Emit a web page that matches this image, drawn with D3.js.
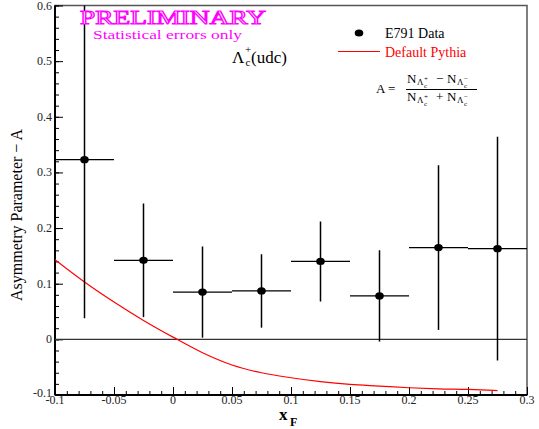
<!DOCTYPE html>
<html>
<head>
<meta charset="utf-8">
<script src="https://cdn.jsdelivr.net/npm/d3@7"></script>
<style>
  body { margin: 0; background: #fff; }
  svg, svg text { font-family: "Liberation Serif", "Times New Roman", "DejaVu Serif", serif !important; }
</style>
</head>
<body>
<div id="vis"></div>
<script>
// chart size
const WIDTH = 539;
const HEIGHT = 429;
const MARGINS = {left: 55, right: 12, top: 5.5, bottom: 34};
const SERIF = "Liberation Serif, Times New Roman, serif";

// data: bin centres, asymmetry values and stat errors
const xCenters = [-0.075, -0.025, 0.025, 0.075, 0.125, 0.175, 0.225, 0.275];
const binHalfWidth = 0.025;
const asymmetry = [0.323, 0.142, 0.085, 0.087, 0.140, 0.078, 0.165, 0.163];
const errors = [0.285, 0.102, 0.082, 0.066, 0.072, 0.082, 0.148, 0.201];

// default pythia prediction
const pythiaX = [-0.1, -0.075, -0.05, -0.025, 0, 0.025, 0.05, 0.075, 0.1, 0.125, 0.15, 0.175, 0.2, 0.225, 0.25, 0.275];
const pythiaY = [0.143, 0.103, 0.067, 0.034, 0.004, -0.024, -0.046, -0.060, -0.069, -0.076, -0.081, -0.084, -0.087, -0.089, -0.090, -0.092];

// axis ticks
const xTicks = [-0.1, -0.05, 0, 0.05, 0.1, 0.15, 0.2, 0.25, 0.3];
const xTickLabels = ["-0.1", "-0.05", "0", "0.05", "0.1", "0.15", "0.2", "0.25", "0.3"];
const yTicks = [-0.1, 0, 0.1, 0.2, 0.3, 0.4, 0.5, 0.6];
const yTickLabels = ["-0.1", "0", "0.1", "0.2", "0.3", "0.4", "0.5", "0.6"];

const svg = d3.select("#vis")
  .append("svg")
    .attr("width", WIDTH)
    .attr("height", HEIGHT)
    .attr("font-family", SERIF);

const x = d3.scaleLinear()
  .domain([-0.1, 0.3])
  .range([MARGINS.left, WIDTH - MARGINS.right]);

const y = d3.scaleLinear()
  .domain([-0.1, 0.6])
  .range([HEIGHT - MARGINS.bottom, MARGINS.top]);

// little helper so every label gets the serif font
function label(g, xPos, yPos, size, str) {
  return g.append("text")
    .attr("x", xPos).attr("y", yPos)
    .attr("font-size", size)
    .attr("font-family", SERIF)
    .text(str);
}

// frame (top & right)
svg.append("rect")
  .attr("x", x(-0.1))
  .attr("y", y(0.6))
  .attr("width", x(0.3) - x(-0.1))
  .attr("height", y(-0.1) - y(0.6))
  .attr("fill", "none")
  .attr("stroke", "#555")
  .attr("stroke-width", 1.5);

// minor ticks
const xMinor = d3.range(-0.1, 0.3001, 0.01);
const yMinor = d3.range(-0.1, 0.6001, 0.02);

svg.append("g")
  .attr("transform", "translate(0," + y(-0.1) + ")")
  .call(d3.axisTop(x).tickValues(xMinor).tickSize(4).tickFormat(""))
  .call(g => g.select(".domain").remove());

svg.append("g")
  .attr("transform", "translate(" + x(-0.1) + ",0)")
  .call(d3.axisRight(y).tickValues(yMinor).tickSize(4).tickFormat(""))
  .call(g => g.select(".domain").remove());

// major ticks (inward) with labels placed outside
const xAxis = svg.append("g")
  .attr("transform", "translate(0," + y(-0.1) + ")")
  .call(d3.axisTop(x).tickValues(xTicks).tickSize(8).tickFormat(""));
xAxis.select(".domain").attr("stroke-width", 2).attr("d", "M" + x(-0.1) + ",0H" + x(0.3));

svg.append("g").selectAll("text")
  .data(xTicks)
  .join("text")
    .attr("x", d => x(d))
    .attr("y", y(-0.1) + 9)
    .attr("text-anchor", "middle")
    .attr("font-size", 12)
    .attr("font-family", SERIF)
    .attr("fill", "#222")
    .text((d, i) => xTickLabels[i]);

const yAxis = svg.append("g")
  .attr("transform", "translate(" + x(-0.1) + ",0)")
  .call(d3.axisRight(y).tickValues(yTicks).tickSize(8).tickFormat(""));
yAxis.select(".domain").attr("stroke-width", 2).attr("d", "M0," + y(-0.1) + "V" + y(0.6));

svg.append("g").selectAll("text")
  .data(yTicks)
  .join("text")
    .attr("x", x(-0.1) - 3)
    .attr("y", d => y(d) + (d === -0.1 ? 2 : 4))
    .attr("text-anchor", "end")
    .attr("font-size", 12)
    .attr("font-family", SERIF)
    .attr("fill", "#222")
    .text((d, i) => yTickLabels[i]);

// zero line
svg.append("line")
  .attr("x1", x(-0.1)).attr("x2", x(0.3))
  .attr("y1", y(0)).attr("y2", y(0))
  .attr("stroke", "#333")
  .attr("stroke-width", 1.2);

// clip for data
svg.append("clipPath").attr("id", "clip")
  .append("rect")
    .attr("x", x(-0.1)).attr("y", y(0.6))
    .attr("width", x(0.3) - x(-0.1))
    .attr("height", y(-0.1) - y(0.6));

const plot = svg.append("g").attr("clip-path", "url(#clip)");

// pythia curve
const pythia = pythiaX.map((d, i) => [d, pythiaY[i]]);
plot.append("path")
  .datum(pythia)
  .attr("fill", "none")
  .attr("stroke", "red")
  .attr("stroke-width", 1.2)
  .attr("d", d3.line().x(d => x(d[0])).y(d => y(d[1])).curve(d3.curveMonotoneX));

// error bars
const points = xCenters.map((d, i) => ({x: d, a: asymmetry[i], e: errors[i]}));

plot.selectAll(".xerr")
  .data(points)
  .join("line")
    .attr("x1", d => x(d.x - binHalfWidth))
    .attr("x2", d => x(d.x + binHalfWidth))
    .attr("y1", d => y(d.a))
    .attr("y2", d => y(d.a))
    .attr("stroke", "black")
    .attr("stroke-width", 1.3);

plot.selectAll(".yerr")
  .data(points)
  .join("line")
    .attr("x1", d => x(d.x))
    .attr("x2", d => x(d.x))
    .attr("y1", d => y(d.a - d.e))
    .attr("y2", d => y(d.a + d.e))
    .attr("stroke", "black")
    .attr("stroke-width", 1.5);

plot.selectAll("ellipse")
  .data(points)
  .join("ellipse")
    .attr("cx", d => x(d.x))
    .attr("cy", d => y(d.a))
    .attr("rx", 4.3)
    .attr("ry", 3.6)
    .attr("fill", "black");

// PRELIMINARY label (hollow letters)
label(svg, 80, 24, 18, "PRELIMINARY")
  .attr("fill", "white")
  .attr("stroke", "#ff00ff")
  .attr("stroke-width", 1)
  .attr("textLength", 186)
  .attr("lengthAdjust", "spacingAndGlyphs");

label(svg, 93, 39, 12.5, "Statistical errors only")
  .attr("fill", "#ff00ff")
  .attr("textLength", 149)
  .attr("lengthAdjust", "spacingAndGlyphs");

// Lambda_c label
label(svg, 232, 63, 17, "Λ");
label(svg, 245, 53, 11, "+");
label(svg, 245.5, 66, 11, "c");
label(svg, 251, 63, 17, "(udc)");

// legend
svg.append("ellipse")
  .attr("cx", 359).attr("cy", 33)
  .attr("rx", 4.3).attr("ry", 3.6)
  .attr("fill", "black");
label(svg, 385, 38, 14, "E791 Data");

svg.append("line")
  .attr("x1", 338).attr("x2", 380)
  .attr("y1", 51.5).attr("y2", 51.5)
  .attr("stroke", "red")
  .attr("stroke-width", 1.2);
label(svg, 385, 57, 14, "Default Pythia").attr("fill", "red");

// asymmetry formula  A = (N+ - N-)/(N+ + N-)
label(svg, 376, 93, 13, "A =");

function nLam(g, xPos, yPos, sign) {
  label(g, xPos, yPos, 13, "N");
  label(g, xPos + 10, yPos + 2, 9, "Λ");
  label(g, xPos + 17, yPos - 2, 7, sign);
  label(g, xPos + 17, yPos + 5, 7, "c");
}

const formula = svg.append("g");
nLam(formula, 407, 83, "+");
label(formula, 436, 83, 13, "−");
nLam(formula, 447, 83, "−");
formula.append("line")
  .attr("x1", 406).attr("x2", 477)
  .attr("y1", 89.5).attr("y2", 89.5)
  .attr("stroke", "black").attr("stroke-width", 1);
nLam(formula, 407, 101, "+");
label(formula, 436, 101, 13, "+");
nLam(formula, 447, 101, "−");

// axis titles
label(svg, 0, 0, 17, "Asymmetry Parameter − A")
  .attr("transform", "translate(22,215) rotate(-90)")
  .attr("text-anchor", "middle")
  .attr("textLength", 172)
  .attr("lengthAdjust", "spacingAndGlyphs");

label(svg, 279, 420, 17, "x").attr("font-weight", "bold");
label(svg, 290, 426, 12, "F").attr("font-weight", "bold");
</script>
</body>
</html>
